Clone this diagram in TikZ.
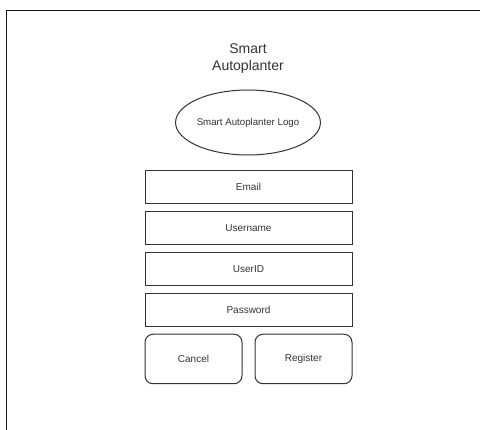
\documentclass[tikz,border=0pt]{standalone}
\usepackage{fontspec}
\setmainfont{Liberation Sans}
\usepackage{xcolor}
\usetikzlibrary{positioning,shapes.geometric}
\definecolor{cFrame}{HTML}{1A1A1A}
\definecolor{cEdge}{HTML}{333333}
\definecolor{cText}{HTML}{333333}
\tikzset{
  field/.style ={draw=cEdge, line width=1pt, minimum width=207pt, minimum height=32.5pt,
                 inner sep=0pt, font=\fontsize{10}{11}\selectfont, text=cText},
  btn/.style   ={draw=cEdge, line width=1pt, rounded corners=8pt, minimum width=97pt,
                 minimum height=49.5pt, inner sep=0pt, font=\fontsize{10}{11}\selectfont, text=cText},
  logo/.style  ={draw=cEdge, line width=1pt, ellipse, minimum width=143pt, minimum height=65pt,
                 inner sep=0pt, font=\fontsize{9.7}{11}\selectfont, text=cText},
  heading/.style={align=center, font=\fontsize{14}{17.7}\selectfont, text=cText},
}

\begin{document}
\begin{tikzpicture}[x=1pt, y=-1pt]
        \useasboundingbox[fill=white] (0,0) rectangle (480,430);
        \draw[cFrame, line width=1.3pt] (480,10.5) -- (6.5,10.5) -- (6.5,430);
        \node[heading] (title) at (248,58.5){Smart\\Autoplanter};
        \node[logo] (logo) at (248,122.5){Smart Autoplanter Logo};
        \node[field] (email) at (248.5,187){Email};
        \node[field, below=7.5pt of email] (user){Username};
        \node[field, below=7.5pt of user] (uid){UserID};
        \node[field, below=7.5pt of uid] (pass){Password};
        \node[btn, below=7pt of pass.south west, anchor=north west] (cancel){Cancel};
        \node[btn, below=7pt of pass.south east, anchor=north east] (reg){Register};
      \end{tikzpicture}
\end{document}
